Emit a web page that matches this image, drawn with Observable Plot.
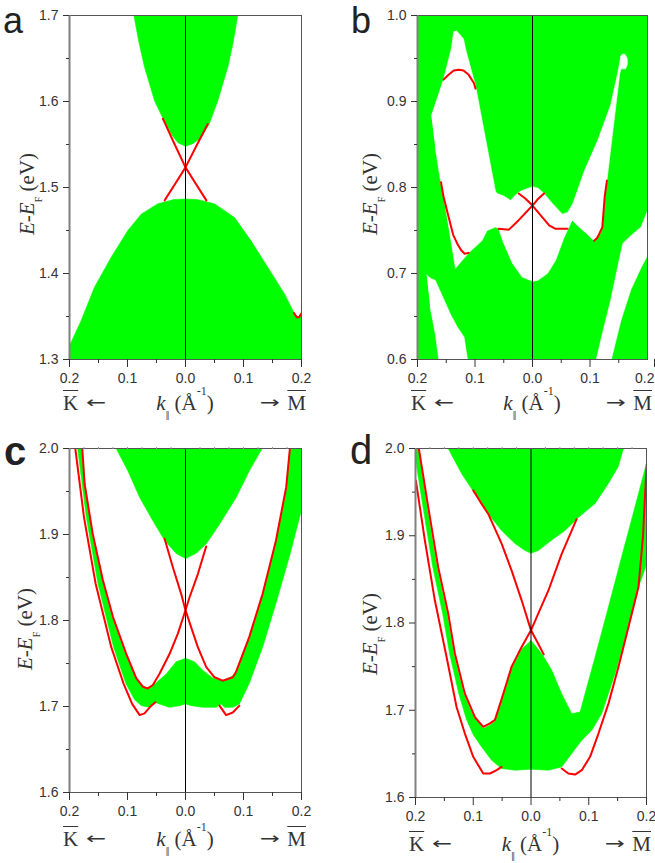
<!DOCTYPE html>
<html><head><meta charset="utf-8">
<script src="https://cdn.jsdelivr.net/npm/d3@7"></script>
<script src="https://cdn.jsdelivr.net/npm/@observablehq/plot@0.6"></script>
<style>
body{margin:0;background:#fff;}
#root{position:relative;width:655px;height:863px;overflow:hidden;background:#fff;}
#root svg{position:absolute;}
.lbl{position:absolute;white-space:nowrap;line-height:1;color:#333;}
.serif{font-family:'Liberation Serif','Times New Roman',serif;font-size:21px;}
.arr{display:inline-block;font-family:'DejaVu Sans',sans-serif;font-size:16px;transform:scaleX(1.5);position:relative;top:-2px;}
.arrL{margin-left:11px;}
.arrR{margin-right:11px;}
.letter{font-family:'Liberation Sans',Arial,sans-serif;color:#222;}
.ylab{font-family:'Liberation Serif','Times New Roman',serif;font-size:21px;transform:translate(-50%,-50%) rotate(-90deg);}
.ov{text-decoration:overline;text-decoration-thickness:1px;}
sub,sup{line-height:0;}
</style></head><body><div id="root"></div>
<script>
const GREEN = "#00ff00", RED = "#ff0000";

// shared ticks
const xMajor = [-0.2, -0.1, 0, 0.1, 0.2];
const xMinor = [-0.15, -0.05, 0.05, 0.15];
const xTop = [-0.175, -0.15, -0.125, -0.1, -0.075, -0.05, -0.025, 0.025, 0.05, 0.075, 0.1, 0.125, 0.15, 0.175];

// ---------- panel a ----------
const aYMajor = [1.3, 1.4, 1.5, 1.6, 1.7];
const aYMinor = [1.35, 1.45, 1.55, 1.65];
const aUpperGreen = [[-0.089,1.72],[-0.089,1.70],[-0.08,1.668],[-0.0707,1.640],[-0.0534,1.601],[-0.040,1.582],[-0.0247,1.562],[-0.013,1.552],[0,1.548],[0.0126,1.551],[0.027,1.558],[0.041,1.574],[0.0557,1.601],[0.073,1.640],[0.082,1.668],[0.090,1.70],[0.090,1.72]];
const aLowerGreen = [[-0.21,1.316],[-0.2,1.316],[-0.18,1.345],[-0.157,1.384],[-0.128,1.419],[-0.0994,1.450],[-0.0764,1.469],[-0.0477,1.481],[-0.02,1.486],[0,1.4866],[0.02,1.486],[0.05,1.481],[0.0845,1.465],[0.113,1.438],[0.142,1.407],[0.171,1.376],[0.188,1.353],[0.194,1.349],[0.198,1.351],[0.2,1.357],[0.21,1.357],[0.21,1.28],[-0.21,1.28]];
const aRed1 = [[-0.039,1.580],[-0.02,1.552],[0,1.5234],[0.018,1.504],[0.036,1.485]];
const aRed2 = [[0.0385,1.574],[0.02,1.550],[0,1.5234],[-0.018,1.504],[-0.036,1.485]];
const aRed3 = [[0.187,1.354],[0.192,1.349],[0.196,1.349],[0.199,1.353]];

// ---------- panel b ----------
const bYMajor = [0.6, 0.7, 0.8, 0.9, 1.0];
const bYMinor = [0.65, 0.75, 0.85, 0.95];
const bWhiteMain = [[-0.176,0.883],[-0.155,0.925],[-0.141,0.962],[-0.137,0.981],[-0.132,0.982],[-0.12,0.973],[-0.116,0.96],[-0.099,0.918],[-0.0645,0.796],[-0.0616,0.793],[-0.05,0.79],[-0.038,0.785],[-0.03,0.791],[-0.02,0.796],[0,0.801],[0.01,0.799],[0.02,0.793],[0.035,0.781],[0.052,0.769],[0.061,0.771],[0.07,0.781],[0.078,0.796],[0.09,0.819],[0.113,0.854],[0.136,0.896],[0.1488,0.935],[0.1534,0.9525],[0.156,0.955],[0.1605,0.955],[0.1646,0.9505],[0.165,0.943],[0.1618,0.938],[0.154,0.938],[0.1518,0.933],[0.1294,0.808],[0.1255,0.789],[0.1215,0.754],[0.116,0.745],[0.107,0.738],[0.095,0.746],[0.081,0.754],[0.069,0.762],[0.055,0.742],[0.04,0.715],[0.026,0.7],[0.009,0.692],[0,0.691],[-0.018,0.696],[-0.035,0.712],[-0.05,0.735],[-0.059,0.752],[-0.0645,0.754],[-0.079,0.75],[-0.088,0.738],[-0.111,0.724],[-0.134,0.706],[-0.141,0.735],[-0.155,0.792],[-0.16,0.808],[-0.169,0.846]];
const bWhiteLowLeft = [[-0.184,0.698],[-0.176,0.694],[-0.169,0.692],[-0.161,0.68],[-0.143,0.653],[-0.131,0.638],[-0.119,0.626],[-0.113,0.6],[-0.113,0.58],[-0.163,0.58],[-0.163,0.6],[-0.169,0.63],[-0.178,0.661]];
const bWhiteLowRight = [[0.111,0.58],[0.111,0.6],[0.1215,0.63],[0.136,0.669],[0.148,0.707],[0.157,0.735],[0.171,0.744],[0.189,0.754],[0.2,0.773],[0.21,0.773],[0.21,0.721],[0.2,0.721],[0.189,0.707],[0.171,0.681],[0.154,0.646],[0.137,0.6],[0.137,0.58]];
const bRed1 = [[-0.1546,0.9254],[-0.146,0.931],[-0.137,0.936],[-0.128,0.937],[-0.120,0.936],[-0.111,0.931],[-0.102,0.9215],[-0.099,0.915]];
const bRed2 = [[-0.159,0.806],[-0.155,0.79],[-0.146,0.766],[-0.138,0.745],[-0.131,0.735],[-0.124,0.727],[-0.118,0.723],[-0.111,0.724]];
const bRed3 = [[-0.059,0.752],[-0.041,0.751],[-0.024,0.762],[0,0.779],[0.01,0.787],[0.02,0.793]];
const bRed4 = [[-0.024,0.793],[-0.012,0.787],[0,0.779],[0.015,0.767],[0.029,0.756],[0.04,0.752],[0.061,0.752]];
const bRed5 = [[0.107,0.738],[0.112,0.741],[0.116,0.746],[0.1215,0.754],[0.1255,0.789],[0.1294,0.808]];

// ---------- panel c ----------
const cdYMajor = [1.6, 1.7, 1.8, 1.9, 2.0];
const cdYMinor = [1.65, 1.75, 1.85, 1.95];
const cUpperGreen = [[-0.1195,2.02],[-0.1195,2.0],[-0.0994,1.974],[-0.079,1.943],[-0.0563,1.916],[-0.036,1.893],[-0.016,1.878],[0,1.872],[0.018,1.878],[0.0356,1.889],[0.0586,1.912],[0.0874,1.943],[0.110,1.974],[0.132,2.0],[0.132,2.02]];
const cLowerGreen = [[-0.178,2.02],[-0.178,2.0],[-0.173,1.959],[-0.162,1.905],[-0.144,1.85],[-0.127,1.805],[-0.104,1.762],[-0.086,1.734],[-0.074,1.724],[-0.065,1.721],[-0.05,1.728],[-0.033,1.738],[-0.016,1.752],[0,1.756],[0.0155,1.752],[0.03,1.742],[0.047,1.733],[0.064,1.730],[0.08,1.735],[0.087,1.740],[0.11,1.781],[0.133,1.831],[0.156,1.893],[0.174,1.955],[0.18,2.0],[0.18,2.02],[0.22,2.02],[0.22,1.926],[0.199,1.926],[0.179,1.874],[0.156,1.82],[0.133,1.769],[0.11,1.727],[0.093,1.703],[0.082,1.699],[0.067,1.699],[0.0615,1.703],[0.053,1.699],[0.03,1.699],[0.01,1.701],[0,1.703],[-0.01,1.701],[-0.028,1.699],[-0.045,1.703],[-0.0535,1.705],[-0.062,1.699],[-0.076,1.701],[-0.088,1.708],[-0.103,1.727],[-0.124,1.769],[-0.151,1.843],[-0.171,1.92],[-0.186,2.0],[-0.186,2.02]];
const cRedA = [[-0.036,1.895],[-0.0218,1.862],[-0.0075,1.831],[0,1.812],[0.0098,1.792],[0.0213,1.769],[0.0356,1.746],[0.05,1.734],[0.064,1.730],[0.0816,1.734],[0.087,1.740],[0.110,1.781],[0.133,1.831],[0.156,1.893],[0.1736,1.955],[0.180,2.0]];
const cRedB = [[0.0356,1.886],[0.0213,1.854],[0.007,1.827],[0,1.812],[-0.013,1.785],[-0.0276,1.761],[-0.0448,1.738],[-0.0563,1.725],[-0.065,1.721],[-0.0736,1.723],[-0.085,1.733],[-0.102,1.761],[-0.125,1.804],[-0.1425,1.847],[-0.16,1.901],[-0.174,1.959],[-0.178,2.0]];
const cRedOuterL = [[-0.19,2.0],[-0.175,1.92],[-0.155,1.843],[-0.128,1.769],[-0.107,1.727],[-0.092,1.703],[-0.079,1.690],[-0.0707,1.692],[-0.059,1.701],[-0.052,1.705]];
const cRedOuterR = [[0.0586,1.701],[0.070,1.690],[0.0816,1.693],[0.093,1.701]];

// ---------- panel d ----------
const dUpperGreen = [[-0.1434,2.02],[-0.1434,2.0],[-0.120,1.971],[-0.097,1.948],[-0.074,1.925],[-0.051,1.906],[-0.0277,1.891],[-0.0104,1.883],[0,1.880],[0.0127,1.883],[0.0358,1.895],[0.059,1.906],[0.082,1.921],[0.111,1.937],[0.134,1.960],[0.151,1.979],[0.160,2.0],[0.160,2.02]];
const dLowerGreen = [[-0.2006,2.02],[-0.1945,2.02],[-0.1945,2.0],[-0.180,1.933],[-0.1627,1.864],[-0.1454,1.811],[-0.1338,1.765],[-0.1165,1.719],[-0.0991,1.692],[-0.0827,1.679],[-0.0711,1.683],[-0.0624,1.687],[-0.048,1.717],[-0.0335,1.748],[-0.0162,1.770],[0,1.780],[0.0185,1.765],[0.0358,1.746],[0.053,1.719],[0.0705,1.696],[0.085,1.698],[0.0936,1.719],[0.111,1.761],[0.134,1.818],[0.157,1.876],[0.180,1.933],[0.2006,1.9844],[0.22,1.9844],[0.22,1.8679],[0.2006,1.8679],[0.1861,1.8412],[0.1688,1.7954],[0.1457,1.742],[0.1225,1.6962],[0.1052,1.6771],[0.0879,1.6656],[0.0705,1.6504],[0.053,1.635],[0.030,1.6313],[0,1.6324],[-0.0277,1.6313],[-0.051,1.6332],[-0.0682,1.6427],[-0.0855,1.658],[-0.1,1.672],[-0.112,1.69],[-0.125,1.719],[-0.141,1.765],[-0.153,1.811],[-0.170,1.864],[-0.187,1.933],[-0.2006,1.99],[-0.21,2.0],[-0.21,2.02]];
const dRed1 = [[-0.100,1.952],[-0.087,1.938],[-0.074,1.925],[-0.0509,1.891],[-0.0335,1.860],[-0.0162,1.826],[0,1.7916],[0.0127,1.776],[0.022,1.764]];
const dRed2 = [[0.079,1.919],[0.053,1.879],[0.030,1.837],[0.0127,1.811],[0,1.7916],[-0.0162,1.7725],[-0.0335,1.750],[-0.048,1.719],[-0.0624,1.689],[-0.0711,1.685],[-0.0827,1.681],[-0.0971,1.692],[-0.1145,1.719],[-0.1318,1.765],[-0.1434,1.811],[-0.1607,1.864],[-0.178,1.933],[-0.1942,2.0]];
const dRedOuterL = [[-0.1994,1.9634],[-0.1838,1.8947],[-0.1665,1.826],[-0.1462,1.7611],[-0.1289,1.7038],[-0.1145,1.6733],[-0.1,1.6466],[-0.0827,1.6275],[-0.0711,1.6275],[-0.0595,1.6313],[-0.0509,1.6351]];
const dRedOuterR = [[0.0532,1.6332],[0.0647,1.6275],[0.0763,1.6263],[0.0879,1.6313],[0.1023,1.6466],[0.1168,1.6733],[0.1341,1.7076],[0.1514,1.7496],[0.1688,1.7954],[0.1861,1.8412],[0.194,1.90],[0.1977,1.95],[0.2006,1.9824]];

const panels = [
  {letter:"a", left:0, top:0, width:330, height:420, ml:69, mr:29, mt:15, mb:61, ydomain:[1.3,1.7], yMajor:aYMajor, yMinor:aYMinor, bg:null, greens:[aUpperGreen,aLowerGreen], whites:[], reds:[aRed1,aRed2,aRed3], topTicks:false, letterPos:[3,0], letterSize:36, letterLH:"normal", ylab:[27,194], base:411, bold:false, edgeLabel:false},
  {letter:"b", left:330, top:0, width:325, height:420, ml:87, mr:8, mt:15, mb:61, ydomain:[0.6,1.0], yMajor:bYMajor, yMinor:bYMinor, bg:GREEN, greens:[], whites:[bWhiteMain,bWhiteLowLeft,bWhiteLowRight], reds:[bRed1,bRed2,bRed3,bRed4,bRed5], topTicks:false, letterPos:[351,0], letterSize:36, letterLH:"normal", ylab:[370,194], base:411, bold:false, edgeLabel:true},
  {letter:"c", left:0, top:420, width:330, height:443, ml:69, mr:29, mt:28, mb:71, ydomain:[1.6,2.0], yMajor:cdYMajor, yMinor:cdYMinor, bg:null, greens:[cUpperGreen,cLowerGreen], whites:[], reds:[cRedA,cRedB,cRedOuterL,cRedOuterR], topTicks:true, letterPos:[4,433], letterSize:40, letterLH:"0.9", ylab:[25,629], base:847, bold:true, edgeLabel:false},
  {letter:"d", left:330, top:420, width:325, height:443, ml:85, mr:9, mt:28, mb:66, ydomain:[1.6,2.0], yMajor:cdYMajor, yMinor:cdYMinor, bg:null, greens:[dUpperGreen,dLowerGreen], whites:[], reds:[dRed1,dRed2,dRedOuterL,dRedOuterR], topTicks:true, letterPos:[350,432], letterSize:40, letterLH:"0.9", ylab:[370,634], base:852, bold:false, edgeLabel:false}
];

const root = document.getElementById("root");
const px = d => d[0], py = d => d[1];
const absFmt = d => Math.abs(d).toFixed(1);
function poly(data, color) {
  return Plot.line(data, {x: px, y: py, fill: color, stroke: color, strokeWidth: 0.6, curve: "linear", clip: true});
}
function redLine(data) {
  return Plot.line(data, {x: px, y: py, stroke: RED, strokeWidth: 2, curve: "linear", clip: true});
}
function addLabel(html, cls, styleObj) {
  const el = document.createElement("div");
  el.className = "lbl " + cls;
  el.innerHTML = html;
  Object.assign(el.style, styleObj);
  root.appendChild(el);
  return el;
}

for (const p of panels) {
  const marks = [];
  if (p.bg) marks.push(Plot.frame({fill: p.bg, stroke: "none"}));
  for (const g of p.greens) marks.push(poly(g, GREEN));
  for (const w of p.whites) marks.push(poly(w, "white"));
  for (const r of p.reds) marks.push(redLine(r));
  marks.push(Plot.ruleX([0], {stroke: "black", strokeWidth: 1}));
  marks.push(Plot.frame({stroke: "#555", strokeWidth: 1}));
  marks.push(Plot.ruleX([-0.2], {stroke: "#808080", strokeWidth: 2}));
  const mainTicks = p.edgeLabel ? xMajor.slice(0, -1) : xMajor;
  marks.push(Plot.axisX({ticks: mainTicks, tickSize: 8, tickPadding: 6, tickFormat: absFmt, label: null}));
  if (p.edgeLabel) marks.push(Plot.axisX({ticks: xMajor.slice(-1), tickSize: 8, tickPadding: 6, tickFormat: absFmt, textAnchor: "end", dx: 7, label: null}));
  marks.push(Plot.axisX({ticks: xMinor, tickSize: 4, tickFormat: () => "", label: null}));
  if (p.topTicks) marks.push(Plot.axisX({ticks: xTop, anchor: "top", tickSize: 2, tickFormat: () => "", label: null, stroke: "#999"}));
  marks.push(Plot.axisY({ticks: p.yMajor, tickSize: 6, tickPadding: 5, tickFormat: d => d.toFixed(1), label: null}));
  marks.push(Plot.axisY({ticks: p.yMinor, tickSize: 3, tickFormat: () => "", label: null}));
  const svg = Plot.plot({
    width: p.width, height: p.height,
    marginLeft: p.ml, marginRight: p.mr, marginTop: p.mt, marginBottom: p.mb,
    x: {domain: [-0.2, 0.2]},
    y: {domain: p.ydomain},
    style: {fontFamily: "'Liberation Sans', Arial, sans-serif", fontSize: "14px", color: "#333", background: "transparent", overflow: "visible"},
    marks
  });
  svg.style.left = p.left + "px";
  svg.style.top = p.top + "px";
  root.appendChild(svg);

  const plotLeft = p.left + p.ml, plotRight = p.left + p.width - p.mr;
  const plotCenter = (plotLeft + plotRight) / 2;
  const topY = p.base - 17.6;
  addLabel(p.letter, "letter", {left: p.letterPos[0] + "px", top: p.letterPos[1] + "px", fontSize: p.letterSize + "px", lineHeight: p.letterLH, fontWeight: p.bold ? "bold" : "normal"});
  addLabel('<i>E</i>-<i>E</i><sub style="font-size:10px;position:relative;top:3px">F</sub> (eV)', "ylab", {left: p.ylab[0] + "px", top: p.ylab[1] + "px"});
  addLabel('<span class="ov">K</span><span class="arr arrL">\u2190</span>', "serif", {left: (plotLeft - 6) + "px", top: topY + "px"});
  addLabel('<i>k</i><sub style="font-size:13px;position:relative;top:4px">\u2016</sub> (\u00C5<sup style="font-size:12px;position:relative;top:-7px">-1</sup>)', "serif", {left: plotCenter + "px", top: topY + "px", transform: "translateX(-50%)"});
  addLabel('<span class="arr arrR">\u2192</span><span class="ov">M</span>', "serif", {right: (655 - plotRight - 5) + "px", top: topY + "px"});
}
</script></body></html>
